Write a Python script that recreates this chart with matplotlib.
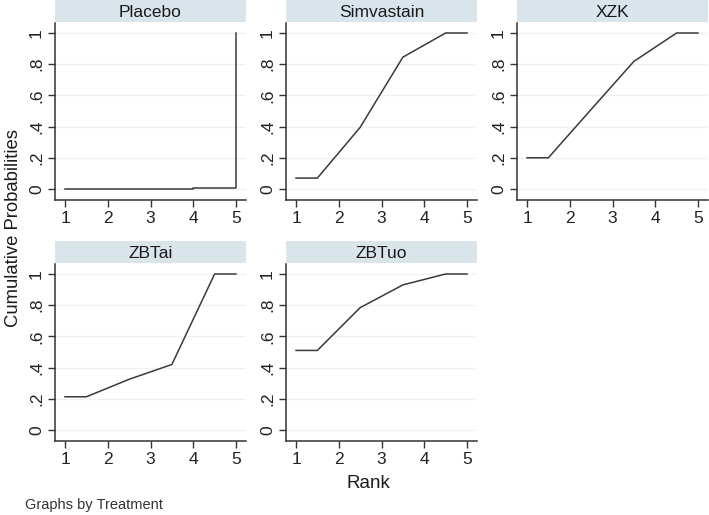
import numpy as np
import matplotlib
matplotlib.use('Agg')
import matplotlib.pyplot as plt

plt.rcParams['font.family'] = ['Liberation Sans', 'DejaVu Sans']

treatments = ['Placebo', 'Simvastain', 'XZK', 'ZBTai', 'ZBTuo']
rank_x = [1, 1.5, 2.5, 3.5, 4.5, 5]
placebo_x = [1, 4, 4, 5, 5]
placebo_y = [0, 0, 0.007, 0.007, 1]
simva_y = [0.07, 0.07, 0.395, 0.845, 1, 1]
xzk_y = [0.2, 0.2, 0.51, 0.818, 1, 1]
zbtai_y = [0.213, 0.213, 0.325, 0.42, 1, 1]
zbtuo_y = [0.51, 0.51, 0.784, 0.93, 1, 1]

xs = [placebo_x, rank_x, rank_x, rank_x, rank_x]
ys = [placebo_y, simva_y, xzk_y, zbtai_y, zbtuo_y]

yticks = [0, 0.2, 0.4, 0.6, 0.8, 1]
ytick_labels = ['0', '.2', '.4', '.6', '.8', '1']
xticks = [1, 2, 3, 4, 5]

W, H = 709, 515
fig = plt.figure(figsize=(W / 100, H / 100), dpi=100)

col_left = [55, 286, 517]
panel_w = 191
row_top = [23, 264]
panel_h = 177
strip_h = 22

for i, name in enumerate(treatments):
    r, c = divmod(i, 3)
    l = col_left[c]
    t = row_top[r]
    ax = fig.add_axes([l / W, 1 - (t + panel_h) / H, panel_w / W, panel_h / H])
    ax.plot(xs[i], ys[i], color='#3a3a3a', lw=1.1)
    ax.set_xlim(0.766, 5.234)
    ax.set_ylim(-0.0705, 1.064)
    ax.set_xticks(xticks)
    ax.set_yticks(yticks)
    ax.set_yticklabels(ytick_labels, rotation=90, va='center')
    for yv in yticks:
        ax.axhline(yv, color='#edf3f4', lw=1, zorder=0)
    for s in ['top', 'right']:
        ax.spines[s].set_visible(False)
    for s in ['left', 'bottom']:
        ax.spines[s].set_color('#333333')
        ax.spines[s].set_linewidth(1.1)
    ax.tick_params(length=5, width=1, colors='#333333', labelsize=12.5,
                   labelcolor='#222222', pad=3)

    sax = fig.add_axes([l / W, 1 - (t - 1) / H, panel_w / W, strip_h / H])
    sax.set_facecolor('#d9e5eb')
    sax.set_xticks([])
    sax.set_yticks([])
    for s in sax.spines.values():
        s.set_visible(False)
    sax.text(0.5, 0.45, name, ha='center', va='center', fontsize=12.5,
             color='#1a1a1a', transform=sax.transAxes)

fig.text(368 / W, 1 - 483 / H, 'Rank', ha='center', va='center',
         fontsize=13.5, color='#1a1a1a')
fig.text(14 / W, 1 - 228 / H, 'Cumulative Probabilities', ha='center',
         va='center', rotation=90, fontsize=13.3, color='#1a1a1a')
fig.text(25 / W, 1 - 505 / H, 'Graphs by Treatment', ha='left',
         va='center', fontsize=10.5, color='#333333')

fig.savefig('out.png', dpi=100, facecolor='white')
